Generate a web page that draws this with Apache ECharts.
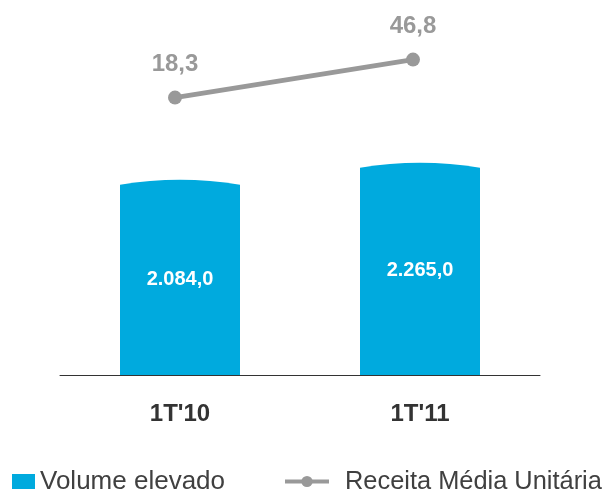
<!DOCTYPE html>
<html>
<head>
<meta charset="utf-8">
<script src="https://cdn.jsdelivr.net/npm/echarts@6/dist/echarts.min.js"></script>
<style>
  html, body { margin: 0; padding: 0; background: #ffffff; }
  #chart { width: 604px; height: 489px; }
</style>
</head>
<body>
<div id="chart"></div>
<script>
// Quarterly volume (bars) and average unit revenue (line)
const categories = ["1T'10", "1T'11"];
const volumeElevado = [2084.0, 2265.0];
const receitaMedia = [18.3, 46.8];

const BLUE = '#00AADE';
const GREY = '#999999';
const FONT = '"Liberation Sans", Arial, sans-serif';

// Brazilian number format: thousands with '.', decimals with ','
function fmtBR(v, digits) {
  const parts = v.toFixed(digits).split('.');
  const intPart = parts[0].replace(/\B(?=(\d{3})+(?!\d))/g, '.');
  return parts.length > 1 ? intPart + ',' + parts[1] : intPart;
}

// Bar with a slightly domed top, value label centred inside
function renderBar(params, api) {
  const xi = api.value(0);
  const v = api.value(1);
  const top = api.coord([xi, v]);
  const base = api.coord([xi, 0]);
  const w = api.size([1, 0])[0] * 0.5;
  const x0 = top[0] - w / 2;
  const x1 = top[0] + w / 2;
  const dip = 5;
  const d = 'M' + x0 + ',' + base[1] +
            ' L' + x0 + ',' + (top[1] + dip) +
            ' Q' + top[0] + ',' + (top[1] - dip) + ' ' + x1 + ',' + (top[1] + dip) +
            ' L' + x1 + ',' + base[1] + ' Z';
  return {
    type: 'group',
    children: [
      {
        type: 'path',
        shape: { pathData: d },
        style: { fill: BLUE }
      },
      {
        type: 'text',
        x: top[0],
        y: (top[1] + base[1]) / 2 + 2,
        style: {
          text: fmtBR(v, 1),
          fill: '#ffffff',
          font: 'bold 20px ' + FONT,
          align: 'center',
          verticalAlign: 'middle'
        }
      }
    ]
  };
}

const chart = echarts.init(document.getElementById('chart'), null, { renderer: 'canvas' });

chart.setOption({
  animation: false,
  backgroundColor: '#ffffff',
  textStyle: { fontFamily: FONT },
  legend: [
    {
      left: 12,
      top: 469,
      padding: 0,
      itemWidth: 23,
      itemHeight: 16,
      itemGap: 0,
      data: [{ name: 'Volume elevado', icon: 'rect', itemStyle: { color: BLUE } }],
      textStyle: { fontSize: 26, color: '#404040', fontFamily: FONT }
    },
    {
      left: 283,
      top: 469,
      padding: 0,
      itemWidth: 44,
      itemHeight: 14,
      lineStyle: { width: 4, color: GREY },
      data: ['Receita Média Unitária'],
      textStyle: { fontSize: 25.4, color: '#404040', fontFamily: FONT, padding: [0, 0, 0, 11] }
    }
  ],
  grid: [
    { left: 60, width: 480, top: 0, height: 375 },
    { left: 56, width: 476, top: 2, height: 120 }
  ],
  xAxis: [
    {
      type: 'category',
      gridIndex: 0,
      data: categories,
      axisLine: { lineStyle: { color: '#333333', width: 1 } },
      axisTick: { show: false },
      axisLabel: {
        margin: 27,
        fontSize: 24,
        fontWeight: 'bold',
        color: '#333333',
        fontFamily: FONT
      }
    },
    {
      type: 'category',
      gridIndex: 1,
      data: categories,
      show: false
    }
  ],
  yAxis: [
    { type: 'value', gridIndex: 0, min: 0, max: 4000, show: false, splitLine: { show: false } },
    { type: 'value', gridIndex: 1, min: 0, max: 90, show: false, splitLine: { show: false } }
  ],
  series: [
    {
      name: 'Volume elevado',
      type: 'custom',
      xAxisIndex: 0,
      yAxisIndex: 0,
      itemStyle: { color: BLUE },
      encode: { x: 0, y: 1 },
      data: volumeElevado.map((v, i) => [i, v]),
      renderItem: renderBar
    },
    {
      name: 'Receita Média Unitária',
      type: 'line',
      xAxisIndex: 1,
      yAxisIndex: 1,
      data: receitaMedia,
      symbol: 'circle',
      symbolSize: 14,
      itemStyle: { color: GREY },
      lineStyle: { color: GREY, width: 5 },
      label: {
        show: true,
        position: 'top',
        distance: 14,
        fontSize: 24,
        fontWeight: 'bold',
        color: GREY,
        fontFamily: FONT,
        formatter: p => fmtBR(p.value, 1)
      }
    }
  ]
});
</script>
</body>
</html>
